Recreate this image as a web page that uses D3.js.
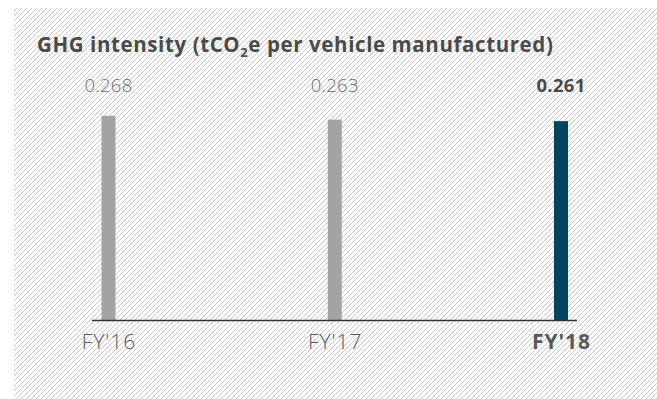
<!DOCTYPE html>
<html>
<head>
<meta charset="utf-8">
<script src="https://cdn.jsdelivr.net/npm/d3@7"></script>
<style>
  html, body { margin: 0; padding: 0; background: #ffffff; }
  svg { display: block; }
  text { font-family: "Open Sans", "Noto Sans", sans-serif; }
</style>
</head>
<body>
<svg id="chart" width="657" height="399"></svg>
<script>
// Fiscal years and GHG intensity (tCO2e per vehicle manufactured)
const years = ["FY'16", "FY'17", "FY'18"];
const intensity = [0.268, 0.263, 0.261];
const valueLabels = ["0.268", "0.263", "0.261"];
const highlightYear = "FY'18";

const W = 657, H = 399;
const svg = d3.select("#chart");

// Hatched panel background
const defs = svg.append("defs");
const pat = defs.append("pattern")
  .attr("id", "hatch")
  .attr("patternUnits", "userSpaceOnUse")
  .attr("width", 5).attr("height", 5);
pat.append("path")
  .attr("d", "M0,5 L5,0 M-1,1 L1,-1 M4,6 L6,4")
  .attr("stroke", "#c4c4c4")
  .attr("stroke-width", 0.9);

svg.append("rect")
  .attr("x", 14).attr("y", 8)
  .attr("width", W - 14).attr("height", H - 8)
  .attr("fill", "url(#hatch)");

// Scales
const x = d3.scalePoint().domain(years).range([108.5, 561]);
const y = d3.scaleLinear().domain([0, 0.42]).range([320, 0]);
const barW = 14;

// Title
const title = svg.append("text")
  .attr("x", 37).attr("y", 52)
  .attr("fill", "#4a4a4c")
  .attr("font-size", 20.5)
  .attr("letter-spacing", 0.6)
  .attr("font-weight", 700);
title.append("tspan").text("GHG intensity (tCO");
title.append("tspan").text("2").attr("font-size", 13).attr("dy", 5);
title.append("tspan").text("e per vehicle manufactured)").attr("dy", -5);

// Bars
svg.append("g").selectAll("rect")
  .data(years)
  .join("rect")
  .attr("x", d => x(d) - barW / 2)
  .attr("width", barW)
  .attr("y", (d, i) => y(intensity[i]))
  .attr("height", (d, i) => y(0) - y(intensity[i]))
  .attr("fill", d => d === highlightYear ? "#00445f" : "#a3a3a5");

// Baseline axis
const axis = d3.axisBottom(x).tickSize(0).tickPadding(14).tickFormat(d => d);
const gAxis = svg.append("g")
  .attr("transform", `translate(0,${y(0)})`)
  .call(axis);
gAxis.select(".domain")
  .attr("d", `M${x.range()[0] - 16.5},0.5H${x.range()[1] + 16}`)
  .attr("stroke", "#333333")
  .attr("stroke-width", 1.3);
gAxis.selectAll(".tick text")
  .attr("font-family", "'Open Sans', 'Noto Sans', sans-serif")
  .attr("font-size", 21)
  .attr("letter-spacing", 1)
  .attr("fill", "#58595b")
  .attr("font-weight", d => d === highlightYear ? 700 : 300)
  .attr("dy", "0.71em");

// Value labels
svg.append("g").selectAll("text")
  .data(years)
  .join("text")
  .attr("x", d => x(d))
  .attr("y", 92)
  .attr("text-anchor", "middle")
  .attr("font-size", 18.5)
  .attr("letter-spacing", 0.3)
  .attr("font-weight", d => d === highlightYear ? 700 : 300)
  .attr("fill", d => d === highlightYear ? "#4a4a4c" : "#6d6e70")
  .text((d, i) => valueLabels[i]);
</script>
</body>
</html>
